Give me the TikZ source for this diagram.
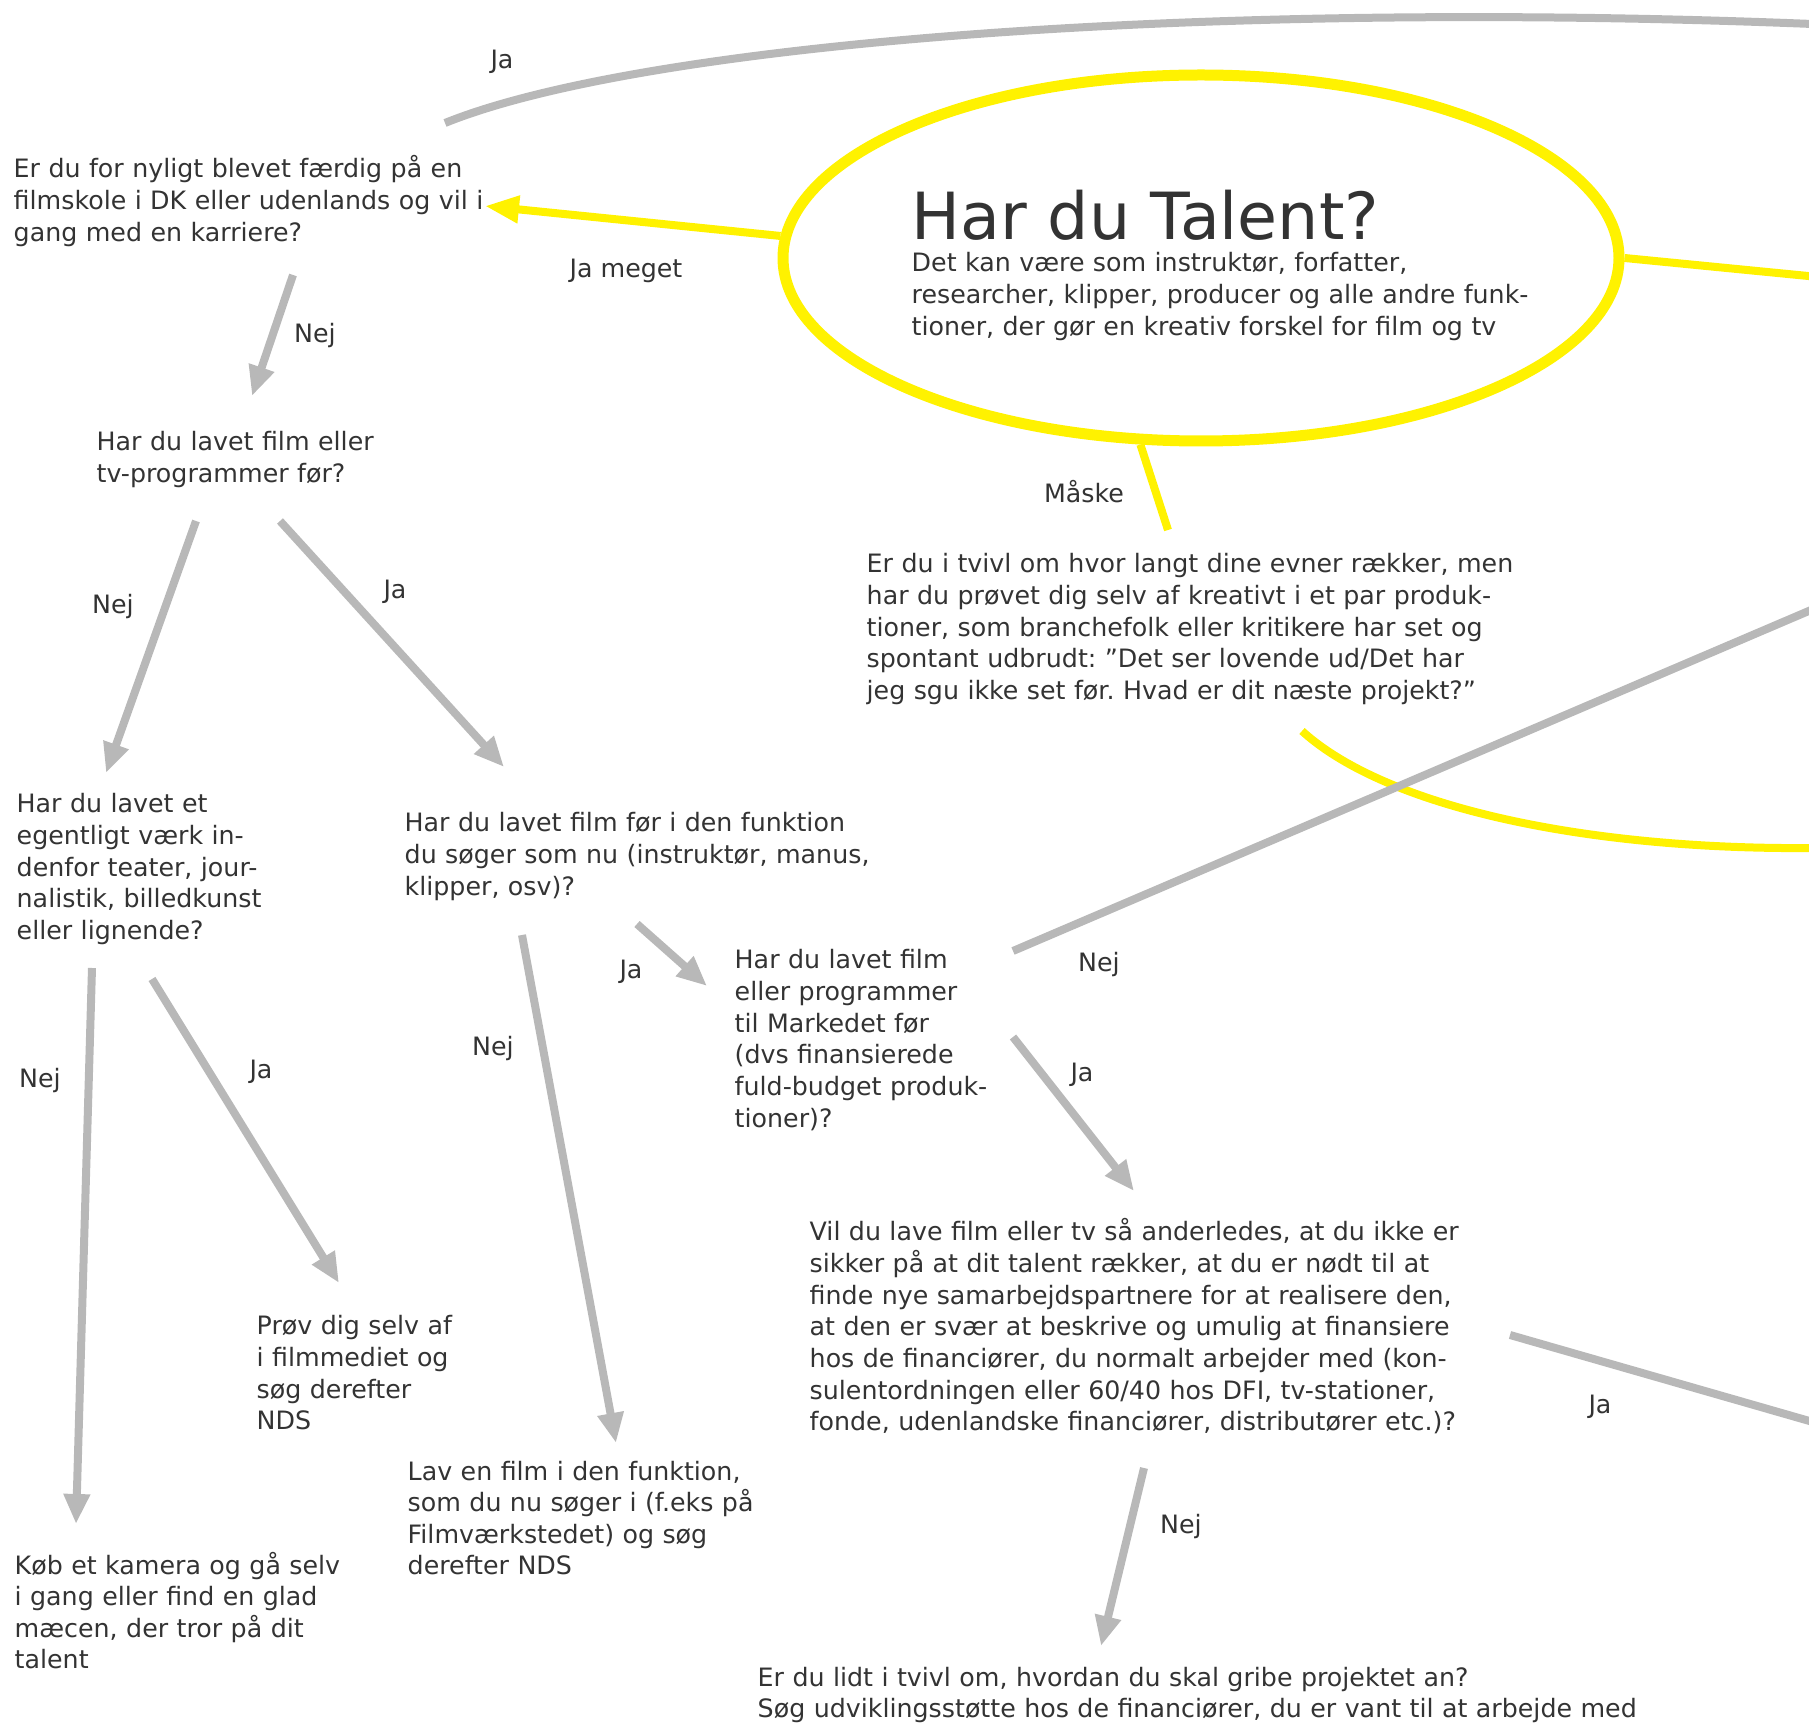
\documentclass[tikz,border=0pt]{standalone}
\usepackage{fontspec}
\setmainfont{DejaVu Sans}
\usepackage{tikz}
\usetikzlibrary{arrows.meta,shapes.geometric,positioning}
\frenchspacing
\definecolor{dfgray}{RGB}{184,184,184}
\definecolor{dfyellow}{RGB}{255,242,0}
\definecolor{dftext}{RGB}{51,51,51}
\tikzstyle{question} = [anchor=base west,align=left,inner sep=0pt,text width=9.5cm,text=dftext,font=\fontsize{7.2}{9}\selectfont]
\tikzstyle{answer} = [anchor=base,inner sep=0pt,text=dftext,font=\fontsize{7.2}{9}\selectfont]
\tikzstyle{garrow} = [line width=0.8mm,-{Triangle[length=3mm,width=2.5mm]},color=dfgray]
\tikzstyle{gline} = [line width=0.8mm,color=dfgray]
\tikzstyle{yarrow} = [line width=0.8mm,-{Triangle[length=3.4mm,width=2.6mm]},color=dfyellow]
\tikzstyle{yline} = [line width=0.8mm,color=dfyellow]

\begin{document}
\begin{tikzpicture}
\useasboundingbox (0,0) rectangle (18.09,-17.24);
\clip (0,0) rectangle (18.09,-17.24);

% Central ellipse
\node[draw=dfyellow, line width=1.1mm, ellipse, minimum width=8.36cm, minimum height=3.66cm] (talent) at (12.01,-2.58) {};
\node[anchor=base west, inner sep=0pt, text=dftext, font=\fontsize{18.5}{22}\selectfont] (title) at (9.11,-2.40) {Har du Talent?};
\node[question] (talentsub) at (9.11,-2.72) {Det kan være som instruktør, forfatter,\\researcher, klipper, producer og alle andre funk-\\tioner, der gør en kreativ forskel for film og tv};

% Questions
\node[question] (q1) at (0.13,-1.78) {Er du for nyligt blevet færdig på en\\filmskole i DK eller udenlands og vil i\\gang med en karriere?};
\node[question] (q2) at (0.96,-4.51) {Har du lavet film eller\\tv-programmer før?};
\node[question] (q3) at (0.16,-8.13) {Har du lavet et\\egentligt værk in-\\denfor teater, jour-\\nalistik, billedkunst\\eller lignende?};
\node[question] (q4) at (4.04,-8.32) {Har du lavet film før i den funktion\\du søger som nu (instruktør, manus,\\klipper, osv)?};
\node[question] (q5) at (7.34,-9.69) {Har du lavet film\\eller programmer\\til Markedet før\\(dvs finansierede\\fuld-budget produk-\\tioner)?};
\node[question] (q6) at (8.09,-12.41) {Vil du lave film eller tv så anderledes, at du ikke er\\sikker på at dit talent rækker, at du er nødt til at\\finde nye samarbejdspartnere for at realisere den,\\at den er svær at beskrive og umulig at finansiere\\hos de financiører, du normalt arbejder med (kon-\\sulentordningen eller 60/40 hos DFI, tv-stationer,\\fonde, udenlandske financiører, distributører etc.)?};
\node[question] (q7) at (7.57,-16.86) {Er du lidt i tvivl om, hvordan du skal gribe projektet an?\\Søg udviklingsstøtte hos de financiører, du er vant til at arbejde med};
\node[question] (q8) at (8.66,-5.73) {Er du i tvivl om hvor langt dine evner rækker, men\\har du prøvet dig selv af kreativt i et par produk-\\tioner, som branchefolk eller kritikere har set og\\spontant udbrudt: ”Det ser lovende ud/Det har\\jeg sgu ikke set før. Hvad er dit næste projekt?”};

% Advice
\node[question] (a1) at (2.56,-13.35) {Prøv dig selv af\\i filmmediet og\\søg derefter\\NDS};
\node[question] (a2) at (0.14,-15.74) {Køb et kamera og gå selv\\i gang eller find en glad\\mæcen, der tror på dit\\talent};
\node[question] (a3) at (4.07,-14.80) {Lav en film i den funktion,\\som du nu søger i (f.eks på\\Filmværkstedet) og søg\\derefter NDS};

% Off-page ends
\coordinate (offJa) at (19.00,-0.28);
\coordinate (offTalent) at (19.00,-2.85);
\coordinate (offMaske) at (19.00,-8.45);
\coordinate (offNej) at (19.00,-5.72);
\coordinate (offJaRight) at (19.00,-14.47);

% Yellow connectors
\draw[yarrow] (talent.177) -- ([shift={(4.72,-0.28)}]q1.base west);
\draw[yline] (talent.east) -- (offTalent);
\draw[yline] (talent.252) -- ([shift={(3.02,0.43)}]q8.base west);
\draw[yline] ([shift={(4.36,-1.58)}]q8.base west) .. controls (14.00,-8.20) and (16.50,-8.60) .. (offMaske);

% Gray connectors
\draw[gline] ([shift={(4.32,0.55)}]q1.base west) .. controls (6.50,-0.40) and (12.50,0.05) .. (offJa);
\draw[garrow] ([shift={(2.80,-0.97)}]q1.base west) -- ([shift={(1.56,0.55)}]q2.base west);
\draw[garrow] ([shift={(1.00,-0.70)}]q2.base west) -- ([shift={(0.90,0.40)}]q3.base west);
\draw[garrow] ([shift={(1.84,-0.70)}]q2.base west) -- ([shift={(1.00,0.65)}]q4.base west);
\draw[garrow] ([shift={(0.76,-1.55)}]q3.base west) -- ([shift={(0.62,0.50)}]a2.base west);
\draw[garrow] ([shift={(1.36,-1.66)}]q3.base west) -- ([shift={(0.83,0.52)}]a1.base west);
\draw[garrow] ([shift={(1.18,-1.03)}]q4.base west) -- ([shift={(2.09,0.37)}]a3.base west);
\draw[garrow] ([shift={(2.33,-0.92)}]q4.base west) -- ([shift={(-0.27,-0.17)}]q5.base west);
\draw[garrow] ([shift={(2.79,-0.68)}]q5.base west) -- ([shift={(3.25,0.50)}]q6.base west);
\draw[garrow] ([shift={(3.35,-2.27)}]q6.base west) -- ([shift={(3.44,0.40)}]q7.base west);
\draw[gline] ([shift={(2.79,0.18)}]q5.base west) -- (offNej);
\draw[gline] ([shift={(7.01,-0.94)}]q6.base west) -- (offJaRight);

% Answer labels
\node[answer] (lJaTop) at (5.02,-0.69) {Ja};
\node[answer] (lJaMeget) at (6.26,-2.78) {Ja meget};
\node[answer] (lNejA) at (3.15,-3.43) {Nej};
\node[answer] (lNejB) at (1.13,-6.14) {Nej};
\node[answer] (lJaB) at (3.95,-5.99) {Ja};
\node[answer] (lMaske) at (10.84,-5.03) {Måske};
\node[answer] (lNejC) at (10.99,-9.72) {Nej};
\node[answer] (lNejD) at (0.40,-10.88) {Nej};
\node[answer] (lJaD) at (2.61,-10.79) {Ja};
\node[answer] (lNejE) at (4.93,-10.56) {Nej};
\node[answer] (lJaE) at (6.31,-9.79) {Ja};
\node[answer] (lJaF) at (10.82,-10.82) {Ja};
\node[answer] (lJaG) at (16.00,-14.13) {Ja};
\node[answer] (lNejG) at (11.81,-15.33) {Nej};
\end{tikzpicture}
\end{document}
